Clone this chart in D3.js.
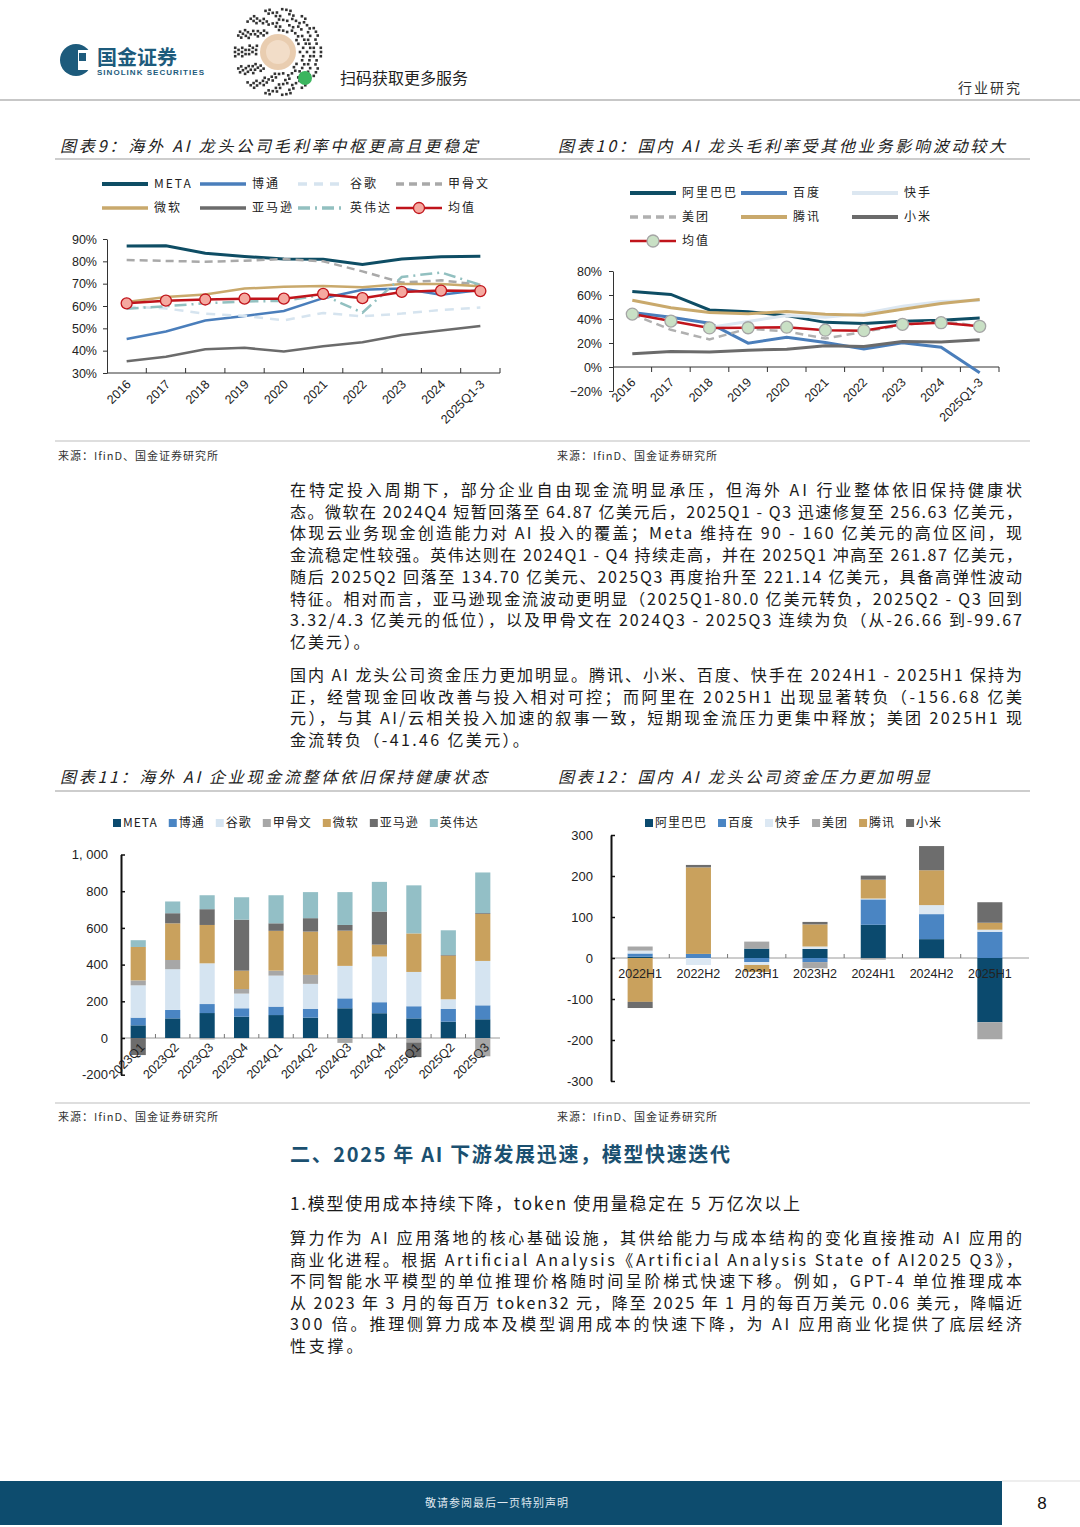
<!DOCTYPE html>
<html><head><meta charset="utf-8">
<script src="https://cdn.jsdelivr.net/npm/d3@7"></script>
<style>
body{margin:0;background:#fff;}
svg{display:block;font-family:"Noto Sans CJK SC","Noto Sans",sans-serif;}
</style></head><body>
<svg id="page" width="1080" height="1527"></svg>
<script>
// ---------------- DATA ----------------
const yearCats = ["2016","2017","2018","2019","2020","2021","2022","2023","2024","2025Q1-3"];
const pctTicks9 = [30,40,50,60,70,80,90];
const meta9     = [86.9, 87.0, 83.6, 82.2, 81.0, 80.9, 78.6, 81.0, 82.0, 82.3];
const broadcom9 = [45.2, 48.6, 53.5, 55.5, 57.8, 63.5, 67.3, 67.8, 65.0, 67.2];
const google9   = [59.8, 58.9, 56.5, 55.6, 53.6, 56.9, 55.4, 56.6, 58.2, 59.3];
const oracle9   = [80.6, 80.2, 79.8, 80.3, 81.0, 80.0, 75.5, 70.5, 71.5, 69.5];
const msft9     = [61.8, 64.0, 65.2, 67.8, 68.6, 68.9, 68.4, 69.8, 69.9, 68.8];
const amzn9     = [35.3, 37.3, 40.6, 41.3, 39.6, 42.0, 43.8, 47.0, 49.0, 51.0];
const nvda9     = [58.8, 59.9, 61.2, 62.0, 62.3, 64.9, 57.0, 73.0, 75.0, 69.5];
const mean9     = [61.2, 62.4, 62.9, 63.3, 63.3, 65.4, 63.5, 66.3, 66.9, 66.7];

const pctTicks10 = [-20,0,20,40,60,80];
const ali10     = [62.9, 60.5, 47.5, 46.1, 42.8, 37.2, 36.2, 38.1, 39.0, 40.8];
const baidu10   = [45.5, 41.5, 36.5, 19.9, 24.8, 20.5, 15.0, 20.2, 16.5, -4.8];
const ks10      = [null, null, 33.0, 38.0, 43.0, 41.5, 44.6, 50.6, 54.6, 55.5];
const meituan10 = [44.0, 31.0, 23.0, 32.0, 29.7, 23.7, 29.4, 35.0, 38.4, 34.0];
const tencent10 = [55.7, 49.4, 45.5, 44.4, 46.3, 43.9, 43.1, 48.1, 52.9, 56.2];
const xiaomi10  = [11.0, 13.0, 12.4, 14.0, 14.8, 17.8, 17.0, 21.2, 20.9, 22.8];
const mean10    = [44.1, 38.3, 32.6, 32.7, 33.2, 30.7, 30.3, 35.6, 36.9, 33.9];

const quarters = ["2023Q1","2023Q2","2023Q3","2023Q4","2024Q1","2024Q2","2024Q3","2024Q4","2025Q1","2025Q2","2025Q3"];
const valTicks11 = [-200,0,200,400,600,800,1000];
const valLabels11 = ["-200","0","200","400","600","800","1, 000"];
const meta11     = [69, 107, 136, 116, 125, 111, 162, 135, 107, 89, 102];
const broadcom11 = [42, 46, 49, 46, 46, 47, 54, 60, 66, 69, 76];
const google11   = [176, 222, 222, 80, 169, 137, 177, 249, 187, 53, 242];
const oracle11   = [27, 50, -8, 25, 27, 49, -26.66, -3, -24, -5, -99.67];
const msft11     = [182, 200, 209, 100, 217, 236, 192, 64.87, 210, 238, 256.63];
const amzn11     = [-93, 55, 86, 278, 41, 73, 31, 180, -80.0, 3.32, 4.3];
const nvda11     = [37, 64, 76, 122, 153, 142, 179, 162, 261.87, 134.70, 221.14];

const halves = ["2022H1","2022H2","2023H1","2023H2","2024H1","2024H2","2025H1"];
const valTicks12 = [-300,-200,-100,0,100,200,300];
const ali12      = [3, 0, 23, 22, 81, 46, -156.68];
const baidu12    = [8, 10, -10, -10, 62, 61, 64];
const ks12       = [7, -17, -7, 6, 2, 22, 5];
const meituan12  = [10, 0, 17, -15, -4, 0, -41.46];
const tencent12  = [-107, 211, -17, 54, 46, 85, 17];
const xiaomi12   = [-15, 6, 0, 6, 10, 59, 50];

// ---------------- PAGE ----------------
const svg = d3.select("#page");
const CJK = '"Noto Sans CJK SC","Noto Sans",sans-serif';
const NUM = '"Liberation Sans",Arial,sans-serif';

// Header
const logo = svg.append("g");
logo.append("circle").attr("cx",76).attr("cy",60).attr("r",16).attr("fill","#1D5B7C");
logo.append("rect").attr("x",78).attr("y",50).attr("width",16).attr("height",20).attr("fill","#fff");
logo.append("rect").attr("x",79).attr("y",53).attr("width",7).attr("height",8).attr("fill","#1D5B7C");
logo.append("text").attr("x",97).attr("y",65).attr("font-size",20).attr("font-weight",700).attr("fill","#1D5B7C").attr("font-family",CJK).text("国金证券");
logo.append("text").attr("x",97).attr("y",75).attr("font-size",8).attr("font-weight",700).attr("fill","#1D5B7C").attr("font-family",NUM).attr("textLength",107).text("SINOLINK SECURITIES");

// QR-like decoration
const qr = svg.append("g").attr("transform","translate(278,52)");
d3.range(22,44,3.5).forEach((r,ri)=>{
  const n = Math.round(2*Math.PI*r/4.2);
  d3.range(n).forEach(k=>{
    if (((k*7 + ri*5) % 9) < 5) {
      const a = k/n*2*Math.PI;
      qr.append("rect").attr("x",Math.cos(a)*r-1.3).attr("y",Math.sin(a)*r-1.3)
        .attr("width",2.6).attr("height",2.6).attr("fill","#333");
    }
  });
});
qr.append("circle").attr("r",18).attr("fill","#E9CDB0");
qr.append("circle").attr("r",12).attr("fill","#F2DDC8");
qr.append("circle").attr("cx",27).attr("cy",26).attr("r",7).attr("fill","#3BB55E");
svg.append("text").attr("x",340).attr("y",84).attr("font-size",16).attr("fill","#222").text("扫码获取更多服务");
svg.append("text").attr("x",958).attr("y",93).attr("font-size",14).attr("fill","#333").attr("letter-spacing",2).text("行业研究");
svg.append("line").attr("x1",0).attr("x2",1080).attr("y1",100).attr("y2",100).attr("stroke","#b5b5b5").attr("stroke-width",1.5);

// Titles & rules
function title(x, y, str, len){
  svg.append("text").attr("x",x).attr("y",y).attr("font-size",16).attr("font-style","italic")
    .attr("fill","#222").attr("textLength",len).attr("lengthAdjust","spacing").text(str);
}
title(60,152,"图表9：海外 AI 龙头公司毛利率中枢更高且更稳定",418);
title(558,152,"图表10：国内 AI 龙头毛利率受其他业务影响波动较大",447);
title(60,783,"图表11：海外 AI 企业现金流整体依旧保持健康状态",427);
title(558,783,"图表12：国内 AI 龙头公司资金压力更加明显",372);
[159, 441, 791, 1103].forEach(yy=>{
  svg.append("line").attr("x1",55).attr("x2",1030).attr("y1",yy).attr("y2",yy).attr("stroke","#bdbdbd").attr("stroke-width",yy===159||yy===791?1.5:1);
});
function source(x,y){
  svg.append("text").attr("x",x).attr("y",y).attr("font-size",11).attr("fill","#333").attr("letter-spacing",1).text("来源：IfinD、国金证券研究所");
}
source(58,460); source(557,460); source(58,1121); source(557,1121);

// ---------------- LINE CHARTS ----------------
function drawLineChart(o){
  const g = svg.append("g");
  const x = d3.scaleBand().domain(o.cats).range(o.xr);
  const y = d3.scaleLinear().domain(o.yd).range(o.yr);
  const cx = c => x(c) + x.bandwidth()/2;
  const yAxis = d3.axisLeft(y).tickValues(o.yticks).tickSize(4).tickSizeOuter(0).tickPadding(o.ypad).tickFormat(d=>(d<0?"−"+(-d):d)+"%");
  const yg = g.append("g").attr("transform",`translate(${o.xr[0]},0)`).call(yAxis);
  yg.select(".domain").attr("stroke","#333");
  yg.selectAll(".tick line").attr("stroke","#333");
  yg.selectAll("text").attr("font-family",NUM).attr("font-size",12.5).attr("fill","#222");
  const y0 = y(o.xAxisAt);
  g.append("line").attr("x1",o.xr[0]).attr("x2",o.xr[1]).attr("y1",y0).attr("y2",y0).attr("stroke","#333");
  o.cats.forEach((c,i)=>{
    const bx = x(c) + x.bandwidth();
    g.append("line").attr("x1",bx).attr("x2",bx).attr("y1",y0).attr("y2",y0+o.xtickDir*5).attr("stroke","#333");
  });
  g.selectAll("text.xl").data(o.cats).join("text").attr("class","xl")
    .attr("transform",c=>`translate(${cx(c)+o.lblDx},${o.lblY}) rotate(-45)`)
    .attr("text-anchor","end").attr("dy","0.35em").attr("font-family",NUM).attr("font-size",12.5).attr("fill","#222").text(c=>c);
  const line = d3.line().defined(v=>v!=null).x((v,i)=>cx(o.cats[i])).y(v=>y(v));
  o.series.forEach(s=>{
    g.append("path").attr("d",line(s.values)).attr("fill","none").attr("stroke",s.color)
      .attr("stroke-width",s.w).attr("stroke-dasharray",s.dash||null);
  });
  const m = o.mean;
  g.append("path").attr("d",line(m.values)).attr("fill","none").attr("stroke",m.color).attr("stroke-width",m.w);
  g.selectAll("circle.mk").data(m.values).join("circle").attr("class","mk")
    .attr("cx",(v,i)=>cx(o.cats[i])).attr("cy",v=>y(v)).attr("r",m.r)
    .attr("fill",m.fill).attr("stroke",m.stroke).attr("stroke-width",1.3);
  // legend
  const items = o.series.concat([m]);
  items.forEach((s,i)=>{
    const col = i % o.legCols, row = Math.floor(i / o.legCols);
    const lx = o.legX + col*o.legDx, ly = o.legY + row*o.legDy;
    g.append("line").attr("x1",lx).attr("x2",lx+46).attr("y1",ly).attr("y2",ly)
      .attr("stroke",s.color).attr("stroke-width",s === m ? m.w : s.w+0.8).attr("stroke-dasharray",s.dash||null);
    if (s === m) g.append("circle").attr("cx",lx+23).attr("cy",ly).attr("r",m.r).attr("fill",m.fill).attr("stroke",m.stroke).attr("stroke-width",1.3);
    g.append("text").attr("x",lx+52).attr("y",ly).attr("dy","0.35em").attr("font-size",12)
      .attr("letter-spacing",2).attr("fill","#222").text(s.name);
  });
}

drawLineChart({
  cats: yearCats, xr:[107,500], yd:[30,90], yr:[373,239], yticks:pctTicks9, ypad:6, xAxisAt:30, xtickDir:-1,
  lblDx:2, lblY:382,
  series:[
    {name:"META", values:meta9, color:"#0E4D64", w:3},
    {name:"博通", values:broadcom9, color:"#4A7EBB", w:2.5},
    {name:"谷歌", values:google9, color:"#D6E4EF", w:2.5, dash:"9,7"},
    {name:"甲骨文", values:oracle9, color:"#A9A9A9", w:2.5, dash:"8,5"},
    {name:"微软", values:msft9, color:"#C9A96C", w:2.5},
    {name:"亚马逊", values:amzn9, color:"#6B6B6B", w:2.5},
    {name:"英伟达", values:nvda9, color:"#92C0C0", w:2.5, dash:"12,5,2,5"}
  ],
  mean:{name:"均值", values:mean9, color:"#C0141B", w:2.5, r:5.5, fill:"#F5A9A0", stroke:"#C0141B"},
  legX:102, legY:184, legDx:98, legDy:24, legCols:4
});

drawLineChart({
  cats: yearCats, xr:[613,999], yd:[-20,80], yr:[391,271], yticks:pctTicks10, ypad:7, xAxisAt:0, xtickDir:1,
  lblDx:1, lblY:380,
  series:[
    {name:"阿里巴巴", values:ali10, color:"#0E4D64", w:3},
    {name:"百度", values:baidu10, color:"#4A7EBB", w:3},
    {name:"快手", values:ks10, color:"#DCE7F1", w:3},
    {name:"美团", values:meituan10, color:"#B0B0B0", w:2.5, dash:"8,5"},
    {name:"腾讯", values:tencent10, color:"#C9A96C", w:3},
    {name:"小米", values:xiaomi10, color:"#6B6B6B", w:3}
  ],
  mean:{name:"均值", values:mean10, color:"#C0141B", w:2.5, r:6, fill:"#C9E0C5", stroke:"#A5A5A5"},
  legX:630, legY:193, legDx:111, legDy:24, legCols:3
});

// ---------------- STACKED BAR CHARTS ----------------
function drawStack(o){
  const g = svg.append("g");
  const x = d3.scaleBand().domain(o.cats).range(o.xr).paddingInner(o.pad).paddingOuter(o.pad/2);
  const y = d3.scaleLinear().domain(o.yd).range(o.yr);
  const rows = o.cats.map((c,i)=>{ const r={cat:c}; o.series.forEach(s=>r[s.name]=s.values[i]); return r; });
  const stacked = d3.stack().keys(o.series.map(s=>s.name)).offset(d3.stackOffsetDiverging)(rows);
  const y0 = y(0);
  // x axis line + ticks
  g.append("line").attr("x1",o.xr[0]).attr("x2",o.xr[1]+o.axisExt).attr("y1",y0).attr("y2",y0).attr("stroke","#9a9a9a");
  o.cats.forEach((c,i)=>{
    if (i===0) return;
    const bx = x(c) - x.step()*o.pad/2;
    g.append("line").attr("x1",bx).attr("x2",bx).attr("y1",y0).attr("y2",y0-4).attr("stroke","#777");
  });
  // bars
  stacked.forEach((layer,li)=>{
    g.selectAll(null).data(layer).join("rect")
      .attr("x",d=>x(d.data.cat)).attr("width",x.bandwidth())
      .attr("y",d=>y(Math.max(d[0],d[1]))).attr("height",d=>Math.abs(y(d[0])-y(d[1])))
      .attr("fill",o.series[li].color);
  });
  // x labels (drawn over the bars)
  if (o.rotate) {
    g.selectAll("text.xl").data(o.cats).join("text").attr("class","xl")
      .attr("transform",c=>`translate(${x(c)+x.bandwidth()/2+o.lblDx},${o.lblY}) rotate(-45)`)
      .attr("text-anchor","end").attr("dy","0.35em").attr("font-family",NUM).attr("font-size",12.5).attr("fill","#222").text(c=>c);
  } else {
    g.selectAll("text.xl").data(o.cats).join("text").attr("class","xl")
      .attr("x",c=>x(c)+x.bandwidth()/2).attr("y",o.lblY).attr("dy","0.35em")
      .attr("text-anchor","middle").attr("font-family",NUM).attr("font-size",12.5).attr("fill","#222").text(c=>c);
  }
  // y axis
  const yAxis = d3.axisLeft(y).tickValues(o.yticks).tickSizeInner(-4).tickSizeOuter(0).tickPadding(o.ypad)
    .tickFormat((d,i)=>o.ylabels[i]);
  const yg = g.append("g").attr("transform",`translate(${o.xr[0]},0)`).call(yAxis);
  yg.select(".domain").attr("stroke","#111").attr("stroke-width",2);
  yg.selectAll(".tick line").attr("stroke","#111").attr("stroke-width",1.5);
  yg.selectAll("text").attr("font-family",NUM).attr("font-size",13).attr("fill","#222");
  // legend
  let lx = o.legX;
  o.series.forEach(s=>{
    g.append("rect").attr("x",lx).attr("y",o.legY-4).attr("width",8).attr("height",8).attr("fill",s.color);
    const t = g.append("text").attr("x",lx+10).attr("y",o.legY).attr("dy","0.35em").attr("font-size",12)
      .attr("letter-spacing",1).attr("fill","#222").text(s.name);
    lx += 10 + t.node().getComputedTextLength() + 11;
  });
}

drawStack({
  cats: quarters, xr:[121,500], pad:0.56, yd:[-200,1000], yr:[1074.7,854.5], yticks:valTicks11, ylabels:valLabels11,
  ypad:13, axisExt:0, rotate:true, lblDx:4, lblY:1045,
  series:[
    {name:"META", values:meta11, color:"#0B4A6E"},
    {name:"博通", values:broadcom11, color:"#4A85C3"},
    {name:"谷歌", values:google11, color:"#D5E4F1"},
    {name:"甲骨文", values:oracle11, color:"#A7A7A7"},
    {name:"微软", values:msft11, color:"#C9A15D"},
    {name:"亚马逊", values:amzn11, color:"#6D6D6D"},
    {name:"英伟达", values:nvda11, color:"#93BFC6"}
  ],
  legX:113, legY:823
});

drawStack({
  cats: halves, xr:[611,1019], pad:0.57, yd:[-300,300], yr:[1081,835], yticks:valTicks12,
  ylabels:valTicks12.map(String), ypad:18, axisExt:10, rotate:false, lblY:974,
  series:[
    {name:"阿里巴巴", values:ali12, color:"#0B4A6E"},
    {name:"百度", values:baidu12, color:"#4A85C3"},
    {name:"快手", values:ks12, color:"#DCE8F3"},
    {name:"美团", values:meituan12, color:"#A7A7A7"},
    {name:"腾讯", values:tencent12, color:"#C9A15D"},
    {name:"小米", values:xiaomi12, color:"#6D6D6D"}
  ],
  legX:645, legY:823
});

// ---------------- BODY TEXT ----------------
function paragraph(lines, x, y0, step, width){
  let extra = 2.5;
  lines.forEach((ln,i)=>{
    const t = svg.append("text").attr("x",x).attr("y",y0+i*step).attr("font-size",16).attr("fill","#1a1a1a").text(ln);
    if (i < lines.length-1) {
      const nat = t.node().getComputedTextLength();
      extra = (width - nat) / Math.max(1, ln.length);
      t.attr("textLength",width).attr("lengthAdjust","spacing");
    } else {
      t.attr("letter-spacing", Math.max(0, extra));
    }
  });
}
paragraph([
  "在特定投入周期下，部分企业自由现金流明显承压，但海外 AI 行业整体依旧保持健康状",
  "态。微软在 2024Q4 短暂回落至 64.87 亿美元后，2025Q1 - Q3 迅速修复至 256.63 亿美元，",
  "体现云业务现金创造能力对 AI 投入的覆盖；Meta 维持在 90 - 160 亿美元的高位区间，现",
  "金流稳定性较强。英伟达则在 2024Q1 - Q4 持续走高，并在 2025Q1 冲高至 261.87 亿美元，",
  "随后 2025Q2 回落至 134.70 亿美元、2025Q3 再度抬升至 221.14 亿美元，具备高弹性波动",
  "特征。相对而言，亚马逊现金流波动更明显（2025Q1-80.0 亿美元转负，2025Q2 - Q3 回到",
  "3.32/4.3 亿美元的低位），以及甲骨文在 2024Q3 - 2025Q3 连续为负（从-26.66 到-99.67",
  "亿美元）。"
], 290, 496, 21.7, 732);
paragraph([
  "国内 AI 龙头公司资金压力更加明显。腾讯、小米、百度、快手在 2024H1 - 2025H1 保持为",
  "正，经营现金回收改善与投入相对可控；而阿里在 2025H1 出现显著转负（-156.68 亿美",
  "元），与其 AI/云相关投入加速的叙事一致，短期现金流压力更集中释放；美团 2025H1 现",
  "金流转负（-41.46 亿美元）。"
], 290, 681, 21.7, 732);

svg.append("text").attr("x",290).attr("y",1162).attr("font-size",20).attr("font-weight",700).attr("fill","#1B5070")
  .attr("textLength",440).attr("lengthAdjust","spacing").text("二、2025 年 AI 下游发展迅速，模型快速迭代");
svg.append("text").attr("x",290).attr("y",1210).attr("font-size",17).attr("fill","#1a1a1a")
  .attr("textLength",510).attr("lengthAdjust","spacing").text("1.模型使用成本持续下降，token 使用量稳定在 5 万亿次以上");
paragraph([
  "算力作为 AI 应用落地的核心基础设施，其供给能力与成本结构的变化直接推动 AI 应用的",
  "商业化进程。根据 Artificial Analysis《Artificial Analysis State of AI2025 Q3》，",
  "不同智能水平模型的单位推理价格随时间呈阶梯式快速下移。例如，GPT-4 单位推理成本",
  "从 2023 年 3 月的每百万 token32 元，降至 2025 年 1 月的每百万美元 0.06 美元，降幅近",
  "300 倍。推理侧算力成本及模型调用成本的快速下降，为 AI 应用商业化提供了底层经济",
  "性支撑。"
], 290, 1244, 21.6, 732);

// ---------------- FOOTER ----------------
svg.append("rect").attr("x",0).attr("y",1481).attr("width",1002).attr("height",44).attr("fill","#0D4C6E");
svg.append("line").attr("x1",1002).attr("x2",1080).attr("y1",1481).attr("y2",1481).attr("stroke","#ddd");
svg.append("text").attr("x",497).attr("y",1503).attr("dy","0.35em").attr("text-anchor","middle").attr("font-size",11)
  .attr("fill","#dfe7ee").attr("letter-spacing",1).text("敬请参阅最后一页特别声明");
svg.append("text").attr("x",1042).attr("y",1503).attr("dy","0.35em").attr("text-anchor","middle").attr("font-family",NUM)
  .attr("font-size",17).attr("fill","#111").text("8");
</script>
</body></html>
